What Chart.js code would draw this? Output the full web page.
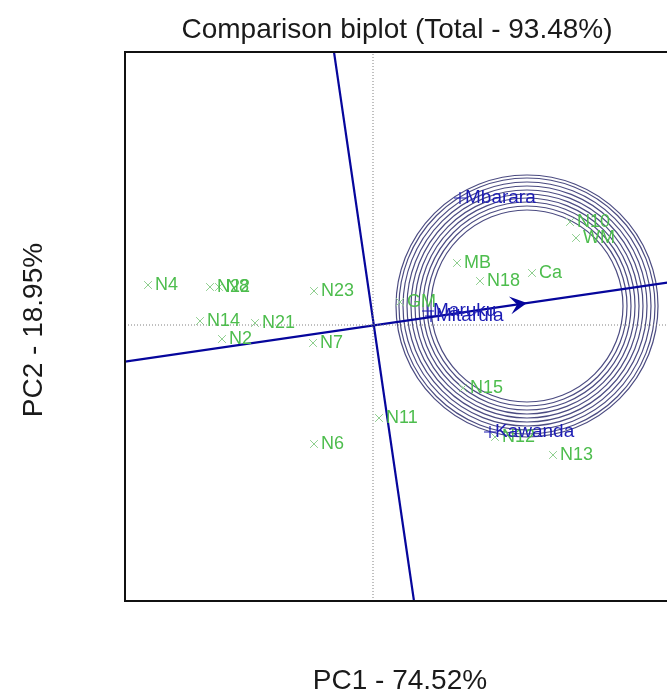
<!DOCTYPE html>
<html>
<head>
<meta charset="utf-8">
<script src="https://cdn.jsdelivr.net/npm/chart.js@4/dist/chart.umd.min.js"></script>
<style>
  html, body { margin: 0; padding: 0; overflow: hidden; background: #fff; }
  canvas { display: block; }
</style>
</head>
<body>
<canvas id="biplot" width="690" height="691"></canvas>
<script>
// genotype scores (PC1, PC2)
const genotypes = ['N4', 'N22', 'N8', 'N23', 'N14', 'N21', 'N2', 'N7', 'N6', 'N11', 'N15', 'N12', 'N13', 'GM', 'MB', 'N18', 'Ca', 'N10', 'WM'];
const genoPC1 = [-2.25, -1.63, -1.54, -0.59, -1.73, -1.18, -1.51, -0.60, -0.59, 0.06, 0.90, 1.22, 1.80, 0.27, 0.84, 1.07, 1.59, 1.97, 2.03];
const genoPC2 = [0.40, 0.38, 0.38, 0.34, 0.04, 0.02, -0.14, -0.18, -1.19, -0.93, -0.63, -1.12, -1.30, 0.23, 0.62, 0.44, 0.52, 1.03, 0.87];

// environment scores
const environments = ['Mbarara', 'Maruku', 'Mitarula', 'Kawanda'];
const envPC1 = [0.87, 0.55, 0.58, 1.17];
const envPC2 = [1.27, 0.14, 0.09, -1.07];

// average environment axis, its perpendicular, arrow tip and the rings
const aeaLine = [[-2.48, -0.367], [2.96, 0.426]];
const perpLine = [[-0.39, 2.73], [0.41, -2.76]];
const arrowTip = [1.54, 0.22];
const ringCenter = [1.54, 0.19];
const ringRadii = [0.96, 1.00, 1.04, 1.08, 1.12, 1.16, 1.20, 1.24, 1.28, 1.31];

// plot window
const xRange = [-2.48, 2.96];
const yRange = [-2.76, 2.73];

const colors = {
    geno: '#4dbd4d',
    genoMark: '#8fcf8f',
    env: '#1c1cb4',
    axis: '#06069c',
    ring: 'rgba(55, 55, 115, 0.9)',
    dotted: '#808080'
};

const toPoints = (xs, ys) => xs.map((x, i) => ({ x: x, y: ys[i] }));
const pairPoints = pairs => pairs.map(p => ({ x: p[0], y: p[1] }));

// rings, arrow head, labels, frame and titles
const biplotDecor = {
    id: 'biplotDecor',
    beforeDatasetsDraw(chart) {
        const { ctx, scales: { x, y } } = chart;
        const cx = x.getPixelForValue(ringCenter[0]);
        const cy = y.getPixelForValue(ringCenter[1]);
        ctx.save();
        ctx.beginPath();
        ctx.rect(chart.chartArea.left, chart.chartArea.top, chart.chartArea.width, chart.chartArea.height);
        ctx.clip();
        ctx.strokeStyle = colors.ring;
        ctx.lineWidth = 1.2;
        ringRadii.forEach(r => {
            const rx = Math.abs(x.getPixelForValue(ringCenter[0] + r) - cx);
            const ry = Math.abs(y.getPixelForValue(ringCenter[1] + r) - cy);
            ctx.beginPath();
            ctx.ellipse(cx, cy, rx, ry, 0, 0, Math.PI * 2);
            ctx.stroke();
        });
        ctx.restore();
    },
    afterDatasetsDraw(chart) {
        const { ctx, scales: { x, y } } = chart;
        // arrow head on the AEA
        const tx = x.getPixelForValue(arrowTip[0]);
        const ty = y.getPixelForValue(arrowTip[1]);
        const ox = x.getPixelForValue(0);
        const oy = y.getPixelForValue(0);
        const ang = Math.atan2(ty - oy, tx - ox);
        ctx.save();
        ctx.translate(tx, ty);
        ctx.rotate(ang);
        ctx.fillStyle = colors.axis;
        ctx.beginPath();
        ctx.moveTo(0, 0);
        ctx.lineTo(-17, -9);
        ctx.lineTo(-10, 0);
        ctx.lineTo(-17, 9);
        ctx.closePath();
        ctx.fill();
        ctx.restore();

        // point labels
        ctx.save();
        ctx.textBaseline = 'middle';
        ctx.font = '18px "Liberation Sans", Arial, sans-serif';
        ctx.fillStyle = colors.geno;
        chart.getDatasetMeta(4).data.forEach((pt, i) => {
            ctx.fillText(genotypes[i], pt.x + 7, pt.y);
        });
        ctx.font = '19px "Liberation Sans", Arial, sans-serif';
        ctx.fillStyle = colors.env;
        chart.getDatasetMeta(5).data.forEach((pt, i) => {
            ctx.fillText(environments[i], pt.x + 5, pt.y);
        });
        ctx.restore();
    },
    afterDraw(chart) {
        const { ctx, chartArea: a } = chart;
        ctx.save();
        ctx.strokeStyle = '#111';
        ctx.lineWidth = 2;
        ctx.strokeRect(a.left, a.top, a.width, a.height);

        ctx.fillStyle = '#1a1a1a';
        ctx.font = '28px "Liberation Sans", Arial, sans-serif';
        ctx.textAlign = 'center';
        ctx.textBaseline = 'alphabetic';
        ctx.fillText('Comparison biplot (Total - 93.48%)', 397, 38);
        ctx.fillText('PC1 - 74.52%', 400, 689);
        ctx.translate(42, 330);
        ctx.rotate(-Math.PI / 2);
        ctx.fillText('PC2 - 18.95%', 0, 0);
        ctx.restore();
    }
};

const lineSet = (data, color, width, dash) => ({
    type: 'line',
    data: data,
    borderColor: color,
    borderWidth: width,
    borderDash: dash,
    pointRadius: 0,
    fill: false,
    clip: 0
});

new Chart(document.getElementById('biplot').getContext('2d'), {
    type: 'scatter',
    data: {
        datasets: [
            lineSet([{ x: xRange[0], y: 0 }, { x: xRange[1], y: 0 }], colors.dotted, 1, [1, 2]),
            lineSet([{ x: 0, y: yRange[0] }, { x: 0, y: yRange[1] }], colors.dotted, 1, [1, 2]),
            lineSet(pairPoints(aeaLine), colors.axis, 2.2, []),
            lineSet(pairPoints(perpLine), colors.axis, 2.2, []),
            {
                label: 'Genotypes',
                data: toPoints(genoPC1, genoPC2),
                pointStyle: 'crossRot',
                pointRadius: 5.5,
                pointBorderWidth: 1,
                borderColor: colors.genoMark,
                backgroundColor: colors.genoMark
            },
            {
                label: 'Environments',
                data: toPoints(envPC1, envPC2),
                pointStyle: 'cross',
                pointRadius: 6,
                pointBorderWidth: 1.2,
                borderColor: colors.env,
                backgroundColor: colors.env
            }
        ]
    },
    options: {
        responsive: false,
        devicePixelRatio: 1,
        animation: false,
        layout: {
            autoPadding: false,
            padding: { left: 125, right: 21, top: 52, bottom: 90 }
        },
        plugins: {
            legend: { display: false },
            title: { display: false },
            tooltip: { enabled: false }
        },
        scales: {
            x: { type: 'linear', display: false, min: xRange[0], max: xRange[1] },
            y: { type: 'linear', display: false, min: yRange[0], max: yRange[1] }
        }
    },
    plugins: [biplotDecor]
});
</script>
</body>
</html>
